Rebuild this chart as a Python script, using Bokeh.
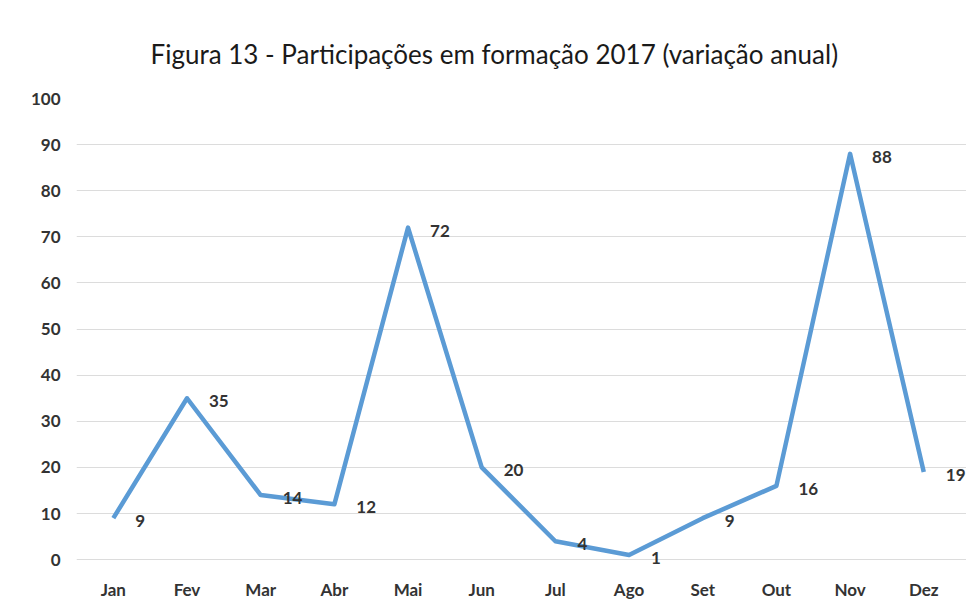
from bokeh.plotting import figure
from bokeh.models import ColumnDataSource, Range1d, FixedTicker, LabelSet
from bokeh.core.properties import value
from bokeh.embed import file_html
from bokeh.resources import INLINE

months = ["Jan", "Fev", "Mar", "Abr", "Mai", "Jun", "Jul", "Ago", "Set", "Out", "Nov", "Dez"]
values = [9, 35, 14, 12, 72, 20, 4, 1, 9, 16, 88, 19]
y_ticks = [0, 10, 20, 30, 40, 50, 60, 70, 80, 90, 100]
title_text = "Figura 13 - Participações em formação 2017 (variação anual)"

xs = list(range(len(months)))
src = ColumnDataSource(dict(x=xs, y=values, lbl=[str(v) for v in values]))

p = figure(frame_width=890, frame_height=475, x_range=Range1d(-0.5, len(months) - 0.42),
           y_range=Range1d(-3, 100), output_backend="svg", toolbar_location=None,
           min_border_left=76, min_border_right=0, min_border_top=98, min_border_bottom=27)

p.title.text = title_text
p.title.align = "left"
p.title.text_font = "Lato"
p.title.text_font_size = "26px"
p.title.text_font_style = "normal"
p.title.text_color = "#1a1a1a"
p.title.standoff = 58
p.title.offset = 74

p.outline_line_color = None
p.background_fill_color = "white"
p.border_fill_color = "white"

p.line("x", "y", source=src, line_color="#5B9BD5", line_width=4.5, line_join="round")
labels = LabelSet(x="x", y="y", text="lbl", source=src, x_offset=22, y_offset=-3,
                  text_align="left", text_baseline="middle", text_font=value("Lato"),
                  text_font_size=value("17px"), text_font_style=value("bold"),
                  text_color=value("#333333"))
p.add_layout(labels)

p.xgrid.grid_line_color = None
p.ygrid.grid_line_color = "#dcdcdc"
p.ygrid.grid_line_width = 1
p.yaxis.ticker = FixedTicker(ticks=y_ticks)
p.xaxis.ticker = FixedTicker(ticks=xs)
p.xaxis.major_label_overrides = {i: m for i, m in zip(xs, months)}

for ax in (p.xaxis, p.yaxis):
    ax.axis_line_color = None
    ax.major_tick_line_color = None
    ax.minor_tick_line_color = None
    ax.major_tick_out = 0
    ax.major_tick_in = 0
    ax.minor_tick_out = 0
    ax.major_label_text_font = "Lato"
    ax.major_label_text_font_size = "17px"
    ax.major_label_text_font_style = "bold"
    ax.major_label_text_color = "#333333"
p.yaxis.major_label_standoff = 16
p.xaxis.major_label_standoff = 5

open("out.html", "w").write(file_html(p, INLINE))
